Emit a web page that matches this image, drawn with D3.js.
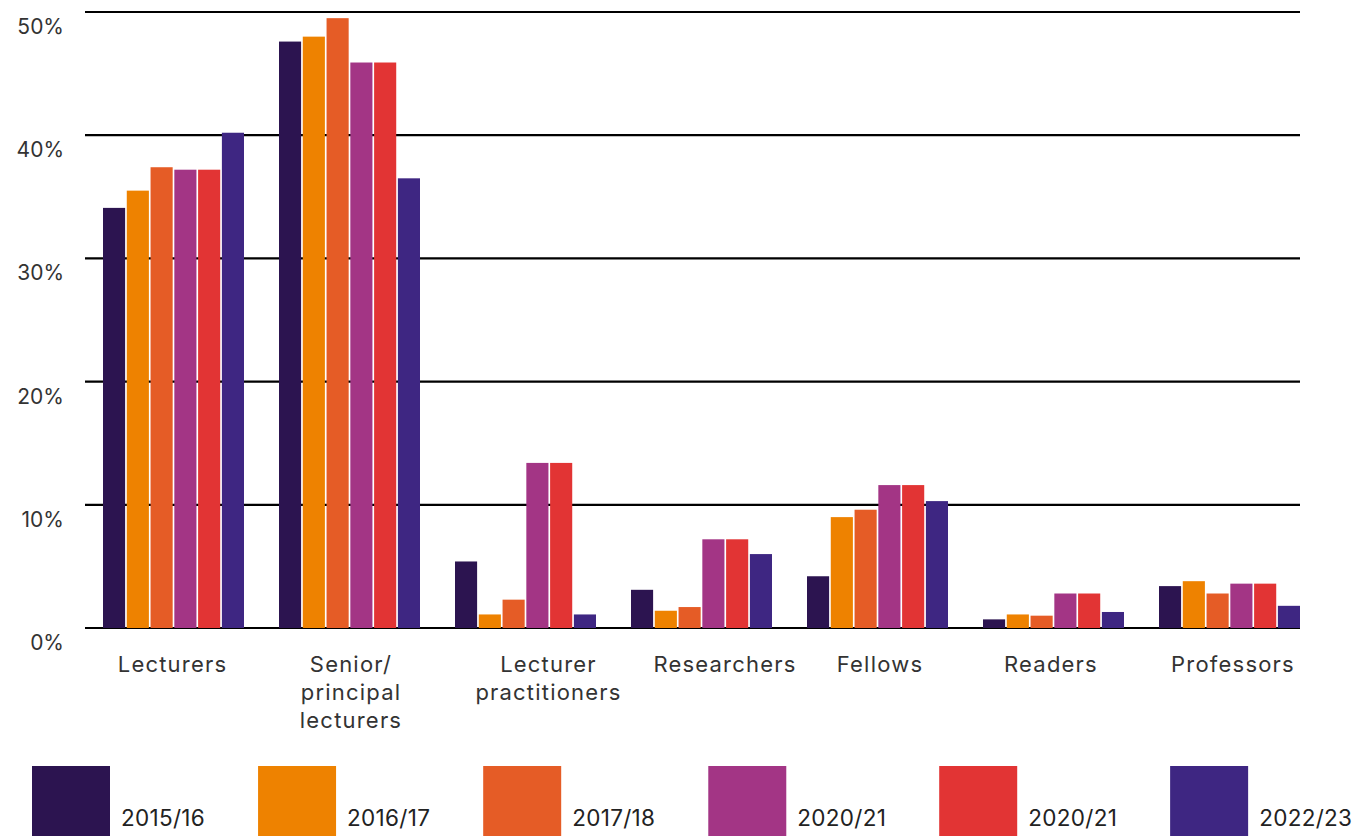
<!DOCTYPE html>
<html>
<head>
<meta charset="utf-8">
<script src="https://cdn.jsdelivr.net/npm/d3@7"></script>
<style>
  html, body { margin: 0; padding: 0; background: #fff; }
  svg { display: block; }
</style>
</head>
<body>
<svg id="chart" width="1357" height="837"></svg>
<script>
// Academic staff by role: share of total (%) per year
const categories = [
  ["Lecturers"],
  ["Senior/", "principal", "lecturers"],
  ["Lecturer", "practitioners"],
  ["Researchers"],
  ["Fellows"],
  ["Readers"],
  ["Professors"]
];
const seriesNames = ["2015/16", "2016/17", "2017/18", "2020/21", "2020/21", "2022/23"];
const seriesColors = ["#2c1450", "#ee8200", "#e55c26", "#a33585", "#e23434", "#3e2682"];

const s2015 = [34.1, 47.6, 5.4, 3.1, 4.2, 0.7, 3.4];
const s2016 = [35.5, 48.0, 1.1, 1.4, 9.0, 1.1, 3.8];
const s2017 = [37.4, 49.5, 2.3, 1.7, 9.6, 1.0, 2.8];
const s2020a = [37.2, 45.9, 13.4, 7.2, 11.6, 2.8, 3.6];
const s2020b = [37.2, 45.9, 13.4, 7.2, 11.6, 2.8, 3.6];
const s2022 = [40.2, 36.5, 1.1, 6.0, 10.3, 1.3, 1.8];
const seriesValues = [s2015, s2016, s2017, s2020a, s2020b, s2022];

const yTicks = [0, 10, 20, 30, 40, 50];

const svg = d3.select("#chart");
const font = "Inter, 'Noto Sans', sans-serif";

const gridLeft = 85, gridRight = 1300;
const y = d3.scaleLinear().domain([0, 50]).range([628, 12]);

const catKeys = categories.map((c, i) => i);
const x0 = d3.scaleBand().domain(catKeys).range([103, 1300])
  .paddingInner(35 / 176).paddingOuter(0);
const x1 = d3.scaleBand().domain(d3.range(seriesNames.length))
  .range([0, x0.bandwidth()]).paddingInner(0.07).paddingOuter(0);

// Horizontal gridlines
svg.append("g").selectAll("line").data(yTicks).join("line")
  .attr("x1", gridLeft).attr("x2", gridRight)
  .attr("y1", d => y(d)).attr("y2", d => y(d))
  .attr("stroke", "#000").attr("stroke-width", 2.2);

// Y tick labels
svg.append("g").selectAll("text").data(yTicks).join("text")
  .attr("x", 64).attr("y", d => y(d) + 22)
  .attr("text-anchor", "end")
  .attr("font-family", font).attr("font-size", 21)
  .attr("fill", "#333")
  .text(d => d + "%");

// Bars
const groups = svg.append("g").selectAll("g").data(catKeys).join("g")
  .attr("transform", d => `translate(${x0(d)},0)`);
groups.selectAll("rect")
  .data(ci => seriesValues.map((vals, si) => ({ si, v: vals[ci] })))
  .join("rect")
  .attr("x", d => x1(d.si))
  .attr("width", x1.bandwidth())
  .attr("y", d => y(d.v))
  .attr("height", d => y(0) - y(d.v))
  .attr("fill", d => seriesColors[d.si]);

// Category labels (small horizontal nudges keep them clear of neighbours)
const labelNudge = [-1, 1.5, 23, 23.5, 2.5, -2.5, 3.5];
const catLabels = svg.append("g").selectAll("text").data(catKeys).join("text")
  .attr("text-anchor", "middle")
  .attr("font-family", font).attr("font-size", 22)
  .attr("letter-spacing", 1.2)
  .attr("fill", "#333");
catLabels.each(function (ci) {
  const t = d3.select(this);
  const cx = x0(ci) + x0.bandwidth() / 2 + labelNudge[ci];
  categories[ci].forEach((line, li) => {
    t.append("tspan").attr("x", cx).attr("y", 672 + li * 28).text(line);
  });
});

// Legend
const legend = svg.append("g");
let lx = 32;
seriesNames.forEach((name, i) => {
  legend.append("rect")
    .attr("x", lx).attr("y", 766).attr("width", 78).attr("height", 70)
    .attr("fill", seriesColors[i]);
  const t = legend.append("text")
    .attr("x", lx + 89).attr("y", 826)
    .attr("font-family", font)
    .attr("font-size", 22.5).attr("letter-spacing", 0.3).attr("fill", "#222")
    .text(name);
  lx += 89 + t.node().getComputedTextLength() + 53;
});
</script>
</body>
</html>
